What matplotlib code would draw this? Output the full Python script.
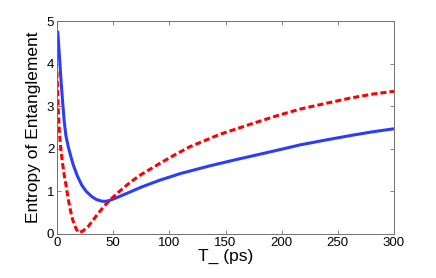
import matplotlib
matplotlib.use('Agg')
import matplotlib.pyplot as plt

plt.rcParams['font.family'] = ['Liberation Sans', 'DejaVu Sans']

# values
t_blue = [0.6, 1.2, 2.2, 3.6, 5, 6.5, 8, 10, 12, 14.5, 18, 22, 26, 30.9, 35,
          40, 43, 47, 52, 60.5, 75, 91.7, 110, 136, 160, 181, 200, 216, 240,
          261, 280, 300]
s_blue = [4.77, 4.55, 4.15, 3.6, 3.1, 2.62, 2.3, 2.05, 1.85, 1.62, 1.37, 1.15,
          1.0, 0.88, 0.81, 0.77, 0.765, 0.79, 0.84, 0.935, 1.10, 1.265, 1.42,
          1.60, 1.75, 1.875, 1.99, 2.09, 2.21, 2.31, 2.395, 2.47]

t_red = [0, 1.0, 2.0, 3.2, 4.5, 6, 8, 10, 12, 14, 17, 19.6, 23, 27.9, 32,
         36.8, 42, 47.2, 56, 65, 74, 91.7, 105, 118.4, 145, 172, 195, 216,
         240, 261, 280, 300]
s_red = [3.81, 3.0, 2.45, 2.05, 1.75, 1.45, 1.15, 0.82, 0.55, 0.33, 0.12, 0.03,
         0.07, 0.18, 0.32, 0.49, 0.65, 0.80, 1.01, 1.21, 1.38, 1.66, 1.86, 2.05,
         2.34, 2.575, 2.77, 2.93, 3.07, 3.19, 3.28, 3.35]

fig = plt.figure(figsize=(4.36, 2.78), dpi=100)
ax = fig.add_axes([57 / 436, 44 / 278, 337 / 436, 213 / 278])

ax.plot(t_blue, s_blue, color='#2b3dfb', linewidth=2.2, solid_capstyle='butt')
ax.plot(t_red, s_red, color='#ff0000', linewidth=2.2, linestyle=(0, (2, 1)))

ax.set_xlim(0, 300)
ax.set_ylim(0, 5)
ax.set_xticks([0, 50, 100, 150, 200, 250, 300])
ax.set_yticks([0, 1, 2, 3, 4, 5])
ax.tick_params(direction='in', top=True, right=True, length=3, width=0.6,
               color='#707070', labelsize=9.5, pad=2)
for sp in ax.spines.values():
    sp.set_color('#707070')
    sp.set_linewidth(0.7)

ax.set_xlabel('T_ (ps)', fontsize=12.5, labelpad=0)
ax.set_ylabel('Entropy of Entanglement', fontsize=12.5, labelpad=4)

fig.savefig('out.png', dpi=100)
